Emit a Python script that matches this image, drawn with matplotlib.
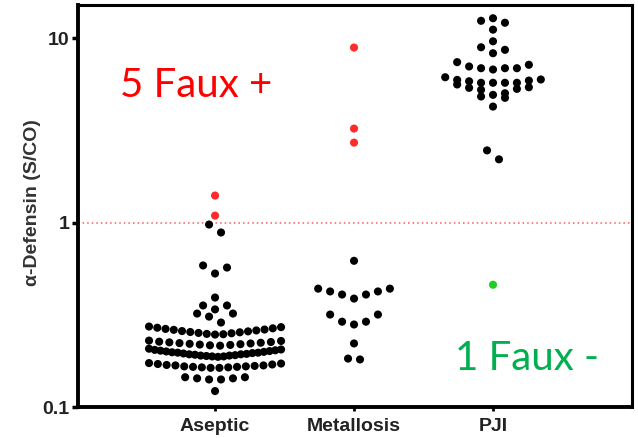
import numpy as np
import matplotlib
matplotlib.use('Agg')
import matplotlib.pyplot as plt
from matplotlib.ticker import NullLocator

groups = ['Aseptic', 'Metallosis', 'PJI']

# alpha-defensin S/CO values per group
aseptic = [0.122,
           0.141, 0.141, 0.143, 0.143, 0.145, 0.145,
           0.163, 0.163, 0.164, 0.164, 0.165, 0.165, 0.166, 0.166,
           0.167, 0.168, 0.168, 0.169, 0.170, 0.171, 0.172, 0.173,
           0.187, 0.188, 0.188, 0.189, 0.190, 0.190, 0.191, 0.192,
           0.193, 0.193, 0.194, 0.195, 0.196, 0.197, 0.197, 0.198,
           0.199, 0.200, 0.201, 0.202, 0.203, 0.204, 0.205, 0.207,
           0.215, 0.216, 0.217, 0.218, 0.219, 0.220, 0.221, 0.222,
           0.223, 0.224, 0.225, 0.226, 0.228, 0.229,
           0.247, 0.248, 0.249, 0.251, 0.252, 0.254, 0.255, 0.257,
           0.258, 0.260, 0.262, 0.263, 0.265, 0.267, 0.269, 0.271, 0.273,
           0.287, 0.309, 0.321, 0.321,
           0.338, 0.355, 0.355,
           0.392,
           0.529, 0.570, 0.585,
           0.883, 0.975]
aseptic_fp = [1.09, 1.40]

metallosis = [0.181, 0.183, 0.221,
              0.280, 0.290, 0.290, 0.317, 0.317,
              0.387, 0.407, 0.407, 0.423, 0.423, 0.438, 0.438,
              0.620]
metallosis_fp = [2.71, 3.23, 8.88]

pji = [2.20, 2.46, 4.25, 4.74, 4.82, 4.92, 5.02, 5.24, 5.30, 5.37,
       5.41, 5.60, 5.72, 5.72, 5.72, 5.72, 5.83, 5.88, 5.93, 5.96,
       6.13, 6.75, 6.86, 6.86, 6.86, 7.01, 7.16, 7.40, 8.27, 8.63,
       8.91, 9.6, 11.1, 12.1, 12.4, 12.8]
pji_fn = [0.46]

threshold = 1.0


def swarm_x(values, center, tol=0.057, step=0.086, half=0.475):
    # stack points of similar value into centred horizontal rows
    logs = np.log10(values)
    order = np.argsort(logs, kind='stable')
    xs = np.zeros(len(values))
    i = 0
    n = len(values)
    while i < n:
        start = logs[order[i]]
        j = i
        while j < n and logs[order[j]] - start < tol:
            j += 1
        idx = order[i:j]
        m = len(idx)
        gap = step if (m - 1) * step <= 2 * half else 2 * half / (m - 1)
        slots = sorted(np.arange(m) - (m - 1) / 2, key=lambda s: (abs(s), -s))
        xs[idx] = center + np.array(slots) * gap
        i = j
    return xs


fig = plt.figure(figsize=(6.38, 4.38), dpi=100)
ax = fig.add_axes([78 / 638, 1 - 407 / 438, 554 / 638, 402 / 438])

sets = [(aseptic, aseptic_fp, '#ff2a2a'),
        (metallosis, metallosis_fp, '#ff2a2a'),
        (pji, pji_fn, '#22cc22')]
for k, (base, extra, col) in enumerate(sets):
    vals = np.array(base + extra)
    cols = ['black'] * len(base) + [col] * len(extra)
    xs = swarm_x(vals, k)
    ax.scatter(xs, vals, s=34, c=cols, linewidths=0, zorder=3)

ax.axhline(threshold, color='#ff5a5a', ls=(0, (1, 2)), lw=1.1, zorder=2)

ax.set_yscale('log')
ax.set_ylim(0.1, 15.1)
ax.set_xlim(-0.986, 3.0)
ax.yaxis.set_minor_locator(NullLocator())
ax.set_yticks([0.1, 1, 10])
ax.set_yticklabels(['0.1', '1', '10'])
ax.set_xticks(range(len(groups)))
ax.set_xticklabels(groups)

for side in ['left', 'bottom']:
    ax.spines[side].set_linewidth(2.8)
for side in ['top', 'right']:
    ax.spines[side].set_linewidth(2.2)

ax.tick_params(axis='y', length=4, width=2.5, pad=2, labelsize=14, labelcolor='#222222')
ax.tick_params(axis='x', length=3, width=2, pad=5, labelsize=14, labelcolor='#222222')
for lab in ax.get_xticklabels() + ax.get_yticklabels():
    lab.set_fontfamily('Liberation Sans')
    lab.set_fontweight('bold')

fig.text(33 / 638, 1 - 203 / 438, 'α-Defensin (S/CO)', rotation=90,
         ha='center', va='center', fontsize=14, fontweight='bold',
         color='#333333', family='Liberation Sans')

ax.text(0.0758, 0.771, '5 Faux +', transform=ax.transAxes, color='#ff0000',
        fontsize=29, family='Lato', va='baseline', ha='left')
ax.text(0.680, 0.092, '1 Faux -', transform=ax.transAxes, color='#00b050',
        fontsize=29, family='Lato', va='baseline', ha='left')

fig.savefig('out.png', dpi=100)
